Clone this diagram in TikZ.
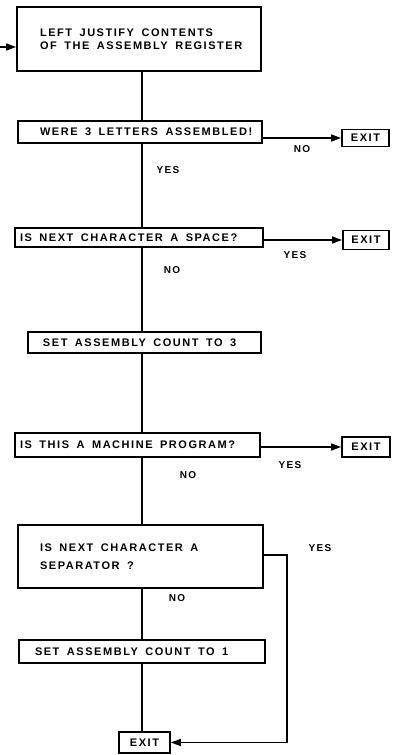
\documentclass[tikz,border=0pt]{standalone}
\usepackage{fontspec}
\newfontfamily\flowfont[LetterSpace=14]{Liberation Sans}
\newcommand\ws{\hskip 7.5pt\relax}
\usetikzlibrary{arrows.meta}
\begin{document}
\begin{tikzpicture}[x=1pt,y=-1pt,
  box/.style={draw,line width=1.8pt,rectangle,inner ysep=0pt,inner xsep=2pt,font=\flowfont\bfseries\fontsize{11}{13}\selectfont,align=left},
  exitbox/.style={draw,line width=1.8pt,rectangle,inner sep=0pt,font=\flowfont\bfseries\fontsize{11}{12}\selectfont},
  lbl/.style={font=\flowfont\bfseries\fontsize{10}{12}\selectfont,inner sep=0pt},
  conn/.style={line width=1.4pt},
  arr/.style={line width=1.4pt,-{Triangle[length=10pt,width=7pt]}}]
\useasboundingbox (0,0) rectangle (403,755);
\coordinate (sx) at (142,0);
\node[box,minimum width=244,minimum height=64,text width=240] (b1) at (139,39) {\hspace*{21pt}LEFT\ws JUSTIFY\ws CONTENTS\\\hspace*{21pt}OF\ws THE\ws ASSEMBLY\ws REGISTER};
\node[box,minimum width=244,minimum height=22,text width=240] (b2) at (140,132) {\hspace*{20pt}WERE\ws 3\ws LETTERS\ws ASSEMBLED!};
\node[box,minimum width=248,minimum height=19,text width=244] (b3) at (139,237.5) {\hspace*{3pt}IS\ws NEXT\ws CHARACTER\ws A\ws SPACE?};
\node[box,minimum width=233,minimum height=21,text width=229] (b4) at (144.5,342.5) {\hspace*{13pt}SET\ws ASSEMBLY\ws COUNT\ws TO\ws 3};
\node[box,minimum width=245,minimum height=24,text width=241] (b5) at (137.5,445) {\hspace*{3pt}IS\ws THIS\ws A\ws MACHINE\ws PROGRAM?};
\node[box,minimum width=245,minimum height=63,text width=241,font=\flowfont\bfseries\fontsize{11}{18}\selectfont] (b6) at (140.5,556.5) {\hspace*{20pt}IS\ws NEXT\ws CHARACTER\ws A\\\hspace*{20pt}SEPARATOR\ws ?};
\node[box,minimum width=246,minimum height=23,text width=242] (b7) at (142,651.5) {\hspace*{14pt}SET\ws ASSEMBLY\ws COUNT\ws TO\ws 1};
\node[exitbox,minimum width=47,minimum height=17] (e2) at (365.5,138) {EXIT};
\node[exitbox,minimum width=46,minimum height=19] (e3) at (366,240) {EXIT};
\node[exitbox,minimum width=48,minimum height=20] (e5) at (366,447) {EXIT};
\node[exitbox,minimum width=51,minimum height=21] (e7) at (144.5,742.5) {EXIT};
\coordinate (in) at (0,47);
\draw[arr] (in) -- (b1.west |- in);
\draw[conn] (b1.south -| sx) -- (b2.north -| sx);
\draw[conn] (b2.south -| sx) -- (b3.north -| sx);
\draw[conn] (b3.south -| sx) -- (b4.north -| sx);
\draw[conn] (b4.south -| sx) -- (b5.north -| sx);
\draw[conn] (b5.south -| sx) -- (b6.north -| sx);
\draw[conn] (b6.south -| sx) -- (b7.north -| sx);
\draw[conn] (b7.south -| sx) -- (e7.north -| sx);
\draw[arr] (b2.east |- e2.west) -- (e2.west);
\draw[arr] (b3.east |- e3.west) -- (e3.west);
\draw[arr] (b5.east |- e5.west) -- (e5.west);
\coordinate (sep) at (287,555);
\draw[arr] (b6.east |- sep) -- (sep) |- (e7.east);
\node[lbl] (l1) at (168,170) {YES};
\node[lbl] (l2) at (302,149) {NO};
\node[lbl] (l3) at (295,255) {YES};
\node[lbl] (l4) at (172,270) {NO};
\node[lbl] (l5) at (290,465) {YES};
\node[lbl] (l6) at (188,475) {NO};
\node[lbl] (l7) at (320,548) {YES};
\node[lbl] (l8) at (177,598) {NO};
\end{tikzpicture}
\end{document}
